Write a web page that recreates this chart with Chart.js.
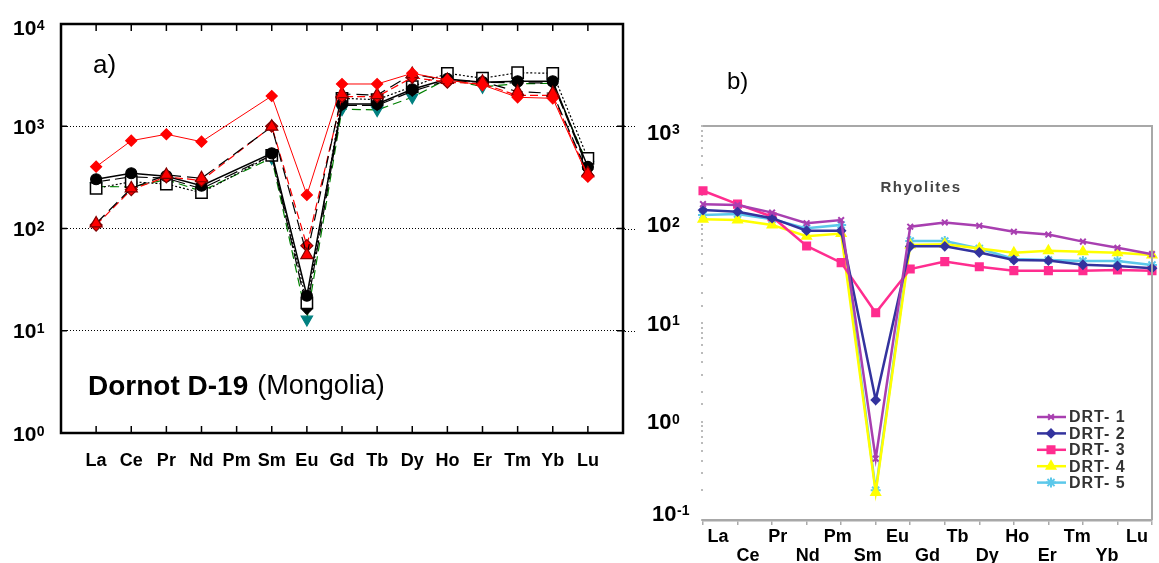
<!DOCTYPE html>
<html>
<head>
<meta charset="utf-8">
<script src="https://cdn.jsdelivr.net/npm/chart.js@4.4.1/dist/chart.umd.min.js"></script>
<style>
  body { margin: 0; background: #fff; width: 1159px; height: 563px; position: relative; overflow: hidden; }
  canvas { position: absolute; top: 0; }
  #chartA { left: 0; }
  #chartB { left: 640px; }
</style>
</head>
<body>
<canvas id="chartA" width="640" height="563"></canvas>
<canvas id="chartB" width="519" height="563"></canvas>
<script>
const FONT = 'Arial, "Liberation Sans", sans-serif';

// ---- panel a) Dornot D-19, chondrite normalised REE (Pm not measured)
const reeA = ['La', 'Ce', 'Pr', 'Nd', 'Pm', 'Sm', 'Eu', 'Gd', 'Tb', 'Dy', 'Ho', 'Er', 'Tm', 'Yb', 'Lu'];
const aRedThin   = [402, 722, 835, 706, null, 1977, 213, 2590, 2590, 3296, 2833, 2530, 1920, 1876, 321];
const aRedTri    = [112, 247, 334, 310, null, 990, 55, 2066, 2020, 3240, 2833, 2727, 2178, 2100, 347];
const aRedDiam   = [108, 240, 320, 295, null, 1000, 68, 1950, 1950, 3000, 2700, 2600, 2000, 2000, 330];
const aBlackDot  = [303, 347, 325, 262, null, 543, 22, 1650, 1650, 2300, 2900, 2700, 2750, 2750, 400];
const aOpenSq    = [247, 287, 272, 224, null, 520, 18.7, 1876, 1820, 2438, 3296, 2946, 3340, 3296, 486];
const aBlackDiam = [285, 320, 310, 245, null, 520, 16.2, 1600, 1600, 2200, 2800, 2700, 2650, 2650, 380];
const aTeal      = [258, 255, 300, 232, null, 490, 12.9, 1470, 1442, 1920, 2900, 2438, 2600, 2630, 420];
const aDecades   = [1, 10, 100, 1000, 10000];

// ---- panel b) rhyolites DRT-1..5 (14 measured elements, no Pm)
const reeB = ['La', 'Ce', 'Pr', 'Nd', 'Pm', 'Sm', 'Eu', 'Gd', 'Tb', 'Dy', 'Ho', 'Er', 'Tm', 'Yb', 'Lu'];
const drtNames = ['DRT- 1', 'DRT- 2', 'DRT- 3', 'DRT- 4', 'DRT- 5'];
const drt1 = [161, 158, 132, 103, 111, 0.42, 95, 105, 97, 84.5, 79, 67, 58, 50];
const drt2 = [140, 135, 116, 86.5, 86.5, 1.65, 60, 60, 52, 43.6, 43, 39, 38, 36];
const drt3 = [220, 161, 120, 60.5, 41, 12.7, 35.3, 42, 37.3, 34, 34, 34, 34.6, 34];
const drt4 = [113, 111, 99, 76, 81, 0.19, 62, 63, 57, 51.7, 54, 53, 51.7, 49];
const drt5 = [125, 128, 113, 91.4, 99, 0.2, 68, 68, 57, 44.7, 43.6, 42.6, 42.6, 38.8];
const bDecades = [0.1, 1, 10, 100, 1000];

const isDecade = v => Math.abs(Math.log10(v) - Math.round(Math.log10(v))) < 1e-9;
const xy = (arr, start) => arr.map((v, i) => ({ x: i + start, y: v }));

// "10" with a raised exponent, placed on the scale's pixel for v
function drawPow(ctx, scale, v, left, big, sup, shift) {
  const y = scale.getPixelForValue(v) + shift;
  const capBig = big * 0.716;
  ctx.save();
  ctx.fillStyle = '#000';
  ctx.textBaseline = 'alphabetic';
  ctx.textAlign = 'left';
  ctx.font = 'bold ' + big + 'px ' + FONT;
  ctx.fillText('10', left, y + capBig / 2);
  const w = ctx.measureText('10').width;
  ctx.font = 'bold ' + sup + 'px ' + FONT;
  ctx.fillText(String(Math.round(Math.log10(v))), left + w + 0.5, y - capBig / 2 + sup * 0.72);
  ctx.restore();
}

// -------- chart a
function lineA(data, color, lineColor, dash, style, fill, radius, extra) {
  return Object.assign({
    data: xy(data, 1),
    borderColor: lineColor,
    borderWidth: 1.2,
    borderDash: dash,
    pointStyle: style,
    pointRadius: radius,
    pointBackgroundColor: fill,
    pointBorderColor: color,
    pointBorderWidth: 1.2,
    spanGaps: true,
    tension: 0
  }, extra || {});
}

const decorA = {
  id: 'decorA',
  afterDraw(chart) {
    const { ctx, chartArea: ca, scales } = chart;
    ctx.save();
    ctx.strokeStyle = '#000';
    ctx.lineWidth = 2.5;
    ctx.strokeRect(ca.left, ca.top, ca.right - ca.left, ca.bottom - ca.top);
    ctx.lineWidth = 1.5;
    ctx.beginPath();
    reeA.forEach((_, i) => {
      const x = scales.x.getPixelForValue(i + 1);
      ctx.moveTo(x, ca.top); ctx.lineTo(x, ca.top + 7);
      ctx.moveTo(x, ca.bottom); ctx.lineTo(x, ca.bottom - 7);
    });
    [10, 100, 1000].forEach(v => {
      const y = scales.y.getPixelForValue(v);
      ctx.moveTo(ca.left, y); ctx.lineTo(ca.left + 6, y);
      ctx.moveTo(ca.right - 6, y); ctx.lineTo(ca.right + 2, y);
    });
    ctx.stroke();
    // dotted grid continues a little past the right frame
    ctx.lineWidth = 1;
    ctx.setLineDash([1, 2]);
    ctx.beginPath();
    [10, 100, 1000].forEach(v => {
      const y = Math.round(scales.y.getPixelForValue(v)) + 0.5;
      ctx.moveTo(ca.right + 2, y); ctx.lineTo(ca.right + 13, y);
    });
    ctx.stroke();
    ctx.setLineDash([]);

    aDecades.forEach(v => drawPow(ctx, scales.y, v, 13, 21, 14, v === 10000 ? 3 : 0));

    ctx.fillStyle = '#000';
    ctx.textBaseline = 'middle';
    ctx.font = '26px ' + FONT;
    ctx.fillText('a)', 93, 66);
    ctx.font = 'bold 28px ' + FONT;
    ctx.fillText('Dornot D-19', 88, 387);
    const w = ctx.measureText('Dornot D-19').width;
    ctx.font = '27px ' + FONT;
    ctx.fillText('(Mongolia)', 88 + w + 9, 387);
    ctx.restore();
  }
};

new Chart(document.getElementById('chartA'), {
  type: 'line',
  data: {
    datasets: [
      lineA(aRedThin, '#ff0000', '#ff0000', [], 'rectRot', '#ff0000', 5.5, { borderWidth: 1 }),
      lineA(aRedTri, '#800000', '#000000', [12, 6], 'triangle', '#ff0000', 7),
      lineA(aRedDiam, '#800000', '#ff0000', [8, 4], 'rectRot', '#ff0000', 6),
      lineA(aBlackDot, '#000000', '#000000', [], 'circle', '#000000', 5.5, { borderWidth: 1.5 }),
      lineA(aOpenSq, '#000000', '#000000', [2, 2], 'rect', '#ffffff', 8, { pointBorderWidth: 1.5 }),
      lineA(aBlackDiam, '#000000', '#000000', [14, 5], 'rectRot', '#000000', 5),
      lineA(aTeal, '#008080', '#008000', [9, 5], 'triangle', '#008080', 6.5, { pointRotation: 180 })
    ]
  },
  options: {
    responsive: false,
    animation: false,
    layout: { padding: { top: 24, right: 12, left: 0, bottom: 0 } },
    plugins: { legend: { display: false }, tooltip: { enabled: false } },
    scales: {
      x: {
        type: 'linear',
        min: 0,
        max: 16,
        afterFit: s => { s.height = 130; },
        grid: { display: false, drawTicks: false },
        border: { display: false },
        ticks: {
          stepSize: 1,
          autoSkip: false,
          maxRotation: 0,
          padding: 17,
          color: '#000',
          font: { family: FONT, size: 18, weight: 'bold' },
          callback: v => (v >= 1 && v <= 15) ? reeA[v - 1] : ''
        }
      },
      y: {
        type: 'logarithmic',
        min: 1,
        max: 10000,
        afterFit: s => { s.width = 61; },
        afterBuildTicks: s => { s.ticks = s.ticks.filter(t => isDecade(t.value)); },
        grid: {
          drawTicks: false,
          lineWidth: 1,
          color: c => (c.tick && (c.tick.value === 1 || c.tick.value === 10000)) ? 'transparent' : '#000'
        },
        border: { display: false, dash: [1, 2] },
        ticks: { callback: () => '' }
      }
    }
  },
  plugins: [decorA]
});

// -------- chart b
const drtColors = ['#a83fb0', '#33339e', '#ff2d8f', '#ffff00', '#5cc8ea'];
const drtStyles = ['crossRot', 'rectRot', 'rect', 'triangle', 'star'];
const drtRadius = [4, 4, 5, 5, 5];
const drtData = [drt1, drt2, drt3, drt4, drt5];

const decorB = {
  id: 'decorB',
  afterDraw(chart) {
    const { ctx, chartArea: ca, scales } = chart;
    ctx.save();
    ctx.strokeStyle = '#a8a8a8';
    ctx.lineWidth = 2;
    ctx.beginPath();
    ctx.moveTo(ca.left, ca.top); ctx.lineTo(ca.right, ca.top); ctx.lineTo(ca.right, ca.bottom);
    ctx.stroke();

    bDecades.forEach(v => drawPow(ctx, scales.y, v, v === 0.1 ? 12 : 7, 22, 14, v === 1000 ? 6 : (v === 0.1 ? -7 : 0)));

    ctx.fillStyle = '#000';
    ctx.textBaseline = 'middle';
    ctx.font = '24px ' + FONT;
    ctx.fillText('b)', 87, 82);
    ctx.fillStyle = '#444';
    ctx.textAlign = 'center';
    ctx.font = 'bold 15px ' + FONT;
    ctx.letterSpacing = '1.5px';
    ctx.fillText('Rhyolites', 281, 188);

    // legend inside the plot
    ctx.textAlign = 'left';
    ctx.font = 'bold 16px ' + FONT;
    ctx.letterSpacing = '1px';
    chart.data.datasets.forEach((ds, i) => {
      const y = 417 + i * 16.4;
      ctx.strokeStyle = ds.borderColor;
      ctx.lineWidth = 2.5;
      ctx.beginPath();
      ctx.moveTo(397, y); ctx.lineTo(426, y);
      ctx.stroke();
      if (Chart.helpers && Chart.helpers.drawPoint) {
        ctx.fillStyle = ds.pointBackgroundColor;
        ctx.strokeStyle = ds.pointBorderColor;
        ctx.lineWidth = ds.pointBorderWidth;
        Chart.helpers.drawPoint(ctx, { pointStyle: ds.pointStyle, radius: ds.pointRadius, rotation: 0, borderWidth: ds.pointBorderWidth }, 411, y);
      }
      ctx.fillStyle = '#333';
      ctx.fillText(drtNames[i], 429, y + 1);
    });
    ctx.letterSpacing = '0px';
    ctx.restore();
  }
};

new Chart(document.getElementById('chartB'), {
  type: 'line',
  data: {
    datasets: drtData.map((d, i) => ({
      label: drtNames[i],
      data: xy(d, 0),
      borderColor: drtColors[i],
      borderWidth: 2.5,
      pointStyle: drtStyles[i],
      pointRadius: drtRadius[i],
      pointBackgroundColor: drtColors[i],
      pointBorderColor: drtColors[i],
      pointBorderWidth: 2,
      tension: 0,
      clip: false
    }))
  },
  options: {
    responsive: false,
    animation: false,
    layout: { padding: { top: 126, right: 1, left: 0, bottom: 0 } },
    plugins: { legend: { display: false }, tooltip: { enabled: false } },
    scales: {
      x: {
        type: 'linear',
        min: 0,
        max: 13,
        weight: 0,
        afterFit: s => { s.height = 6; },
        grid: { drawOnChartArea: false, drawTicks: true, tickLength: 5, color: '#aaa', lineWidth: 1.5 },
        border: { color: '#a8a8a8', width: 2.5 },
        ticks: { stepSize: 1, display: false }
      },
      xl: {
        type: 'category',
        position: 'bottom',
        labels: reeB.map((e, i) => i % 2 === 0 ? [e, ''] : ['', e]),
        offset: true,
        weight: 1,
        afterFit: s => { s.height = 37; },
        grid: { display: false, drawTicks: false },
        border: { display: false },
        ticks: {
          autoSkip: false,
          maxRotation: 0,
          padding: 2,
          color: '#000',
          font: { family: FONT, size: 18, weight: 'bold', lineHeight: 1.05 }
        }
      },
      y: {
        type: 'logarithmic',
        min: 0.1,
        max: 1000,
        afterFit: s => { s.width = 63; },
        grid: { drawOnChartArea: false, drawTicks: true, tickLength: 2, lineWidth: 2, color: '#bbb' },
        border: { display: false },
        ticks: { autoSkip: false, callback: () => '' }
      }
    }
  },
  plugins: [decorB]
});
</script>
</body>
</html>
